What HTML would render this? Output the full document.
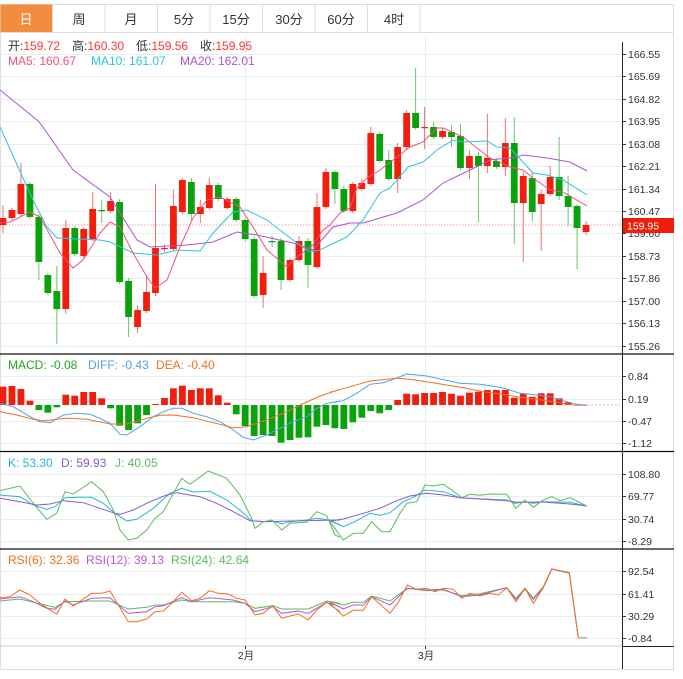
<!DOCTYPE html>
<html><head><meta charset="utf-8"><style>
body{margin:0;background:#fff;width:683px;height:679px;overflow:hidden;font-family:"Liberation Sans","Noto Sans CJK SC",sans-serif}
svg{position:absolute;left:0;top:0}
</style></head><body>
<svg id="s" width="683" height="679" xmlns="http://www.w3.org/2000/svg" font-family="Liberation Sans, Noto Sans CJK SC, sans-serif">
<rect x="0.5" y="4.5" width="673" height="665" fill="none" stroke="#ddd"/>
<rect x="0.5" y="4.5" width="52" height="28" fill="#f28c3f"/>
<g stroke="#ddd"><line x1="0" y1="32.5" x2="674" y2="32.5"/><line x1="105" y1="5" x2="105" y2="32"/><line x1="157.5" y1="5" x2="157.5" y2="32"/><line x1="210" y1="5" x2="210" y2="32"/><line x1="262.5" y1="5" x2="262.5" y2="32"/><line x1="315" y1="5" x2="315" y2="32"/><line x1="367.5" y1="5" x2="367.5" y2="32"/><line x1="420" y1="5" x2="420" y2="32"/><line x1="52.5" y1="5" x2="52.5" y2="32"/></g>
<g font-size="13" text-anchor="middle" fill="#333"><text x="26" y="24" fill="#fff">日</text><text x="79" y="24">周</text><text x="131" y="24">月</text><text x="184" y="24">5分</text><text x="236" y="24">15分</text><text x="289" y="24">30分</text><text x="341" y="24">60分</text><text x="394" y="24">4时</text></g>
<g id="grid" stroke="#e6eef2" stroke-width="1"></g>
<line x1="245.5" y1="36" x2="245.5" y2="646" stroke="#e6eef2"/>
<line x1="425.5" y1="36" x2="425.5" y2="646" stroke="#e6eef2"/>
<line x1="0" y1="225" x2="622" y2="225" stroke="#f5a0a0" stroke-dasharray="1.5,1.5"/>
<g id="c"></g>
<g id="l" fill="none" stroke-width="1"></g>
<g stroke="#111" stroke-width="1.2"><line x1="0" y1="354" x2="674" y2="354"/><line x1="0" y1="451.5" x2="674" y2="451.5"/><line x1="0" y1="549" x2="674" y2="549"/></g>
<line x1="0" y1="646" x2="622" y2="646" stroke="#ccc"/>
<line x1="622.5" y1="42" x2="622.5" y2="669" stroke="#222"/>
<line x1="622" y1="646.5" x2="674" y2="646.5" stroke="#222"/>
<g id="ax" font-size="10.5" fill="#333"></g>
<rect x="623" y="218" width="51" height="15" fill="#f01c0c"/>
<text x="627" y="229.5" font-size="10.5" fill="#fff">159.95</text>
<g font-size="12">
<text x="8" y="50" fill="#333">开:<tspan fill="#f33">159.72</tspan></text>
<text x="72" y="50" fill="#333">高:<tspan fill="#f33">160.30</tspan></text>
<text x="136" y="50" fill="#333">低:<tspan fill="#f33">159.56</tspan></text>
<text x="200" y="50" fill="#333">收:<tspan fill="#f33">159.95</tspan></text>
<text x="8" y="65" fill="#f2507b">MA5: 160.67</text>
<text x="91" y="65" fill="#2bc4dc">MA10: 161.07</text>
<text x="180" y="65" fill="#b154d0">MA20: 162.01</text>
<text x="8" y="369" fill="#1aaa1a">MACD: -0.08</text>
<text x="88" y="369" fill="#4aa3f0">DIFF: -0.43</text>
<text x="156" y="369" fill="#f07020">DEA: -0.40</text>
<text x="8" y="467" fill="#24b8d8">K: 53.30</text>
<text x="61" y="467" fill="#8a5ad0">D: 59.93</text>
<text x="115" y="467" fill="#5cba5c">J: 40.05</text>
<text x="8" y="564" fill="#f07020">RSI(6): 32.36</text>
<text x="86" y="564" fill="#b858d0">RSI(12): 39.13</text>
<text x="171" y="564" fill="#5cba5c">RSI(24): 42.64</text>
</g>
<g font-size="10.5" fill="#333" text-anchor="middle"><text x="246" y="659">2月</text><text x="426" y="659">3月</text></g>
<g stroke="#333"><line x1="245.5" y1="646" x2="245.5" y2="649"/><line x1="425.5" y1="646" x2="425.5" y2="649"/></g>
</svg>
<script>
var NS="http://www.w3.org/2000/svg";
function el(p,t,a){var e=document.createElementNS(NS,t);for(var k in a)e.setAttribute(k,a[k]);document.getElementById(p).appendChild(e);return e;}
var ticks=[[54,"166.55"],[76,"165.69"],[99,"164.82"],[121,"163.95"],[144,"163.08"],[166,"162.21"],[189,"161.34"],[211,"160.47"],[233,"159.60"],[256,"158.73"],[278,"157.86"],[301,"157.00"],[323,"156.13"],[346,"155.26"],
[376,"0.84"],[399,"0.19"],[421,"-0.47"],[443,"-1.12"],[474,"108.80"],[496,"69.77"],[519,"30.74"],[541,"-8.29"],[571,"92.54"],[594,"61.41"],[616,"30.29"],[638,"-0.84"]];
ticks.forEach(function(t){el("grid","line",{x1:0,x2:622,y1:t[0]+.5,y2:t[0]+.5});el("ax","line",{x1:622,x2:626,y1:t[0]+.5,y2:t[0]+.5,stroke:"#333"});var e=el("ax","text",{x:628,y:t[0]+4});e.textContent=t[1];});
function X(i){return 3+i*8.97;}
var C=[[218,225,1,205,233],[210,218,1],[184,214,1,163],[184,217,0],[217,262,0,214,280],[275,293,0],[291,309,0,266,344],[228,309,1,220,314],[228,254,0],[229,256,1],[209,239,1,192],[210,211,0,200,223],[201,211,1,192],[202,282,0,199],[281,317,0,278,337],[310,327,1,305,333],[292,311,1,275],[248,293,1,184,296],[248,249,1,244,252],[206,249,1,190],[180,212,1,178],[182,214,0,178,220],[207,214,1,200,223],[185,208,1,178],[185,199,0],[199,208,1],[199,220,0],[220,239,0],[239,296,0,236,298],[273,295,1,256,308],[241,242,0,236,247],[241,280,0,238,290],[260,280,1],[241,260,1,236],[241,265,0,238,288],[207,267,1,193],[172,207,1,168],[172,189,0,170,204],[189,211,0,185],[184,211,1],[183,189,1,179],[133,184,1,127],[134,161,0,132],[160,179,0,150],[147,179,1,143,193],[113,147,1,110],[113,128,0,68,130],[127,128,1,107,149],[127,137,0,122],[131,137,1,128],[132,137,0,125,147],[136,168,0,124],[156,168,1,150,179],[156,166,0,152,222],[158,166,1,114,173],[161,167,0,158],[143,167,1,118,176],[143,203,0,117,244],[176,203,1,172,262],[178,212,0,172,221],[194,204,1,190,251],[177,194,1,166],[177,196,0,137,200],[196,207,0,176,226],[206,228,0,204,269],[225,232,1,221,235]];
C.forEach(function(c,i){var x=X(i),col=c[2]?"#f31d0d":"#0aa20a",wc=c[2]?"#f07070":"#6cc36c";
el("c","line",{x1:x,x2:x,y1:c[3]||c[0]-2,y2:c[4]||c[1]+2,stroke:wc});
el("c","rect",{x:x-3.4,y:c[0],width:6.8,height:Math.max(1.2,c[1]-c[0]),fill:col});});
var M=[386.7,386,389,400.7,410,412.7,407.3,394.7,395.7,392,392,398.3,408.3,425.7,430,423.3,415,404,398,388.3,385.7,390,388.3,388.3,395.3,402.7,414.3,426,436,435,436,442.7,440,437.7,437.3,426.7,425,428.3,429,422.3,417.7,411,413.3,410,400,393.7,394.3,393,393,392,393.7,395.7,392.7,391.7,390,390,390,397.7,394,396.7,393.3,393.3,398.3,402.3,404.7];
var Z=405;M.forEach(function(v,i){var x=X(i);var red=v<Z;el("c","rect",{x:x-3.4,y:Math.min(v,Z),width:6.8,height:Math.max(.8,Math.abs(v-Z)),fill:red?"#f31d0d":"#0aa20a"});});
function pl(pts,col,off,yo,w){var s=pts.map(function(p){return (p[0]/3+off).toFixed(1)+","+(p[1]/3+yo).toFixed(1)}).join(" ");el("l","polyline",{points:s,stroke:col,"stroke-width":w||1});}
function pp(pts,col){el("l","polyline",{points:pts.map(function(p){return p.join(",")}).join(" "),stroke:col});}
pp([[0,90],[37,120],[40,123],[73,170],[110,197],[137,240],[150,247],[187,245],[213,242],[237,232],[257,235],[293,243],[313,250],[333,227],[350,223],[363,223],[397,213],[423,200],[443,183],[470,170],[490,160],[517,157],[523,155],[547,158],[570,162],[587,171]],"#b154d0");
pp([[0,127],[33,200],[47,227],[57,238],[100,240],[110,242],[133,253],[157,255],[177,250],[200,251],[213,233],[233,212],[247,210],[267,220],[293,240],[310,252],[320,250],[330,245],[347,237],[363,220],[380,193],[390,188],[408,167],[423,162],[437,150],[453,140],[463,142],[487,141],[497,147],[510,148],[533,173],[547,175],[563,180],[587,195]],"#2bc4dc");
pp([[0,223],[10,222],[30,212],[40,217],[60,253],[73,268],[83,260],[100,233],[110,222],[120,227],[133,253],[147,277],[155,288],[167,280],[180,247],[193,218],[207,200],[220,197],[240,207],[253,227],[267,250],[287,267],[297,257],[313,245],[323,230],[330,225],[340,213],[350,208],[357,188],[367,178],[380,170],[397,157],[410,147],[423,142],[437,128],[443,128],[463,137],[477,148],[490,158],[510,167],[523,170],[533,178],[550,190],[563,192],[587,206]],"#f2507b");
pl([[0,160],[40,170],[90,200],[120,215],[150,218],[190,195],[230,190],[270,193],[300,205],[330,220],[360,253],[380,255],[420,230],[460,200],[490,185],[520,175],[545,175],[580,190],[620,200],[660,215],[700,240],[730,262],[760,270],[800,255],[840,235],[880,215],[920,200],[950,175],[980,160],[1020,153]],"#4aa3f0",0,350);
pl([[0,158],[40,152],[80,130],[120,103],[160,98],[190,88],[230,72],[290,78],[390,100],[450,103],[500,110],[530,117],[570,130],[620,135],[660,140],[700,152],[740,163],[770,166]],"#4aa3f0",330,350);
pl([[0,185],[50,195],[100,208],[130,212],[200,205],[260,208],[330,222],[380,222],[440,205],[480,196],[520,195],[580,203],[640,218],[700,233],[740,230],[800,210],[860,185],[900,165],[960,138],[1020,118]],"#f07020",0,350);
pl([[0,127],[60,110],[120,93],[200,85],[240,88],[300,97],[400,113],[460,125],[520,133],[560,140],[620,148],[680,157],[730,165],[770,166]],"#f07020",330,350);
el("l","line",{x1:587,x2:620,y1:405,y2:405,stroke:"#9cd0f0","stroke-dasharray":"2,2"});
pl([[0,135],[60,140],[100,165],[140,178],[165,170],[195,143],[240,142],[275,142],[310,160],[345,190],[380,213],[410,208],[460,175],[510,130],[545,115],[580,126],[630,124],[680,150],[720,180],[755,212],[790,215],[820,213],[845,222],[870,215],[920,210],[950,205],[985,210],[1020,225]],"#24b8d8",0,450);
pl([[0,210],[40,230],[80,212],[120,190],[150,196],[180,188],[220,155],[250,142],[285,120],[340,125],[390,143],[460,147],[530,150],[555,160],[585,155],[610,160],[640,155],[720,157],[770,168]],"#24b8d8",330,450);
pl([[0,145],[60,155],[110,165],[150,162],[190,152],[250,158],[300,175],[345,190],[360,193],[400,180],[450,155],[500,135],[530,128],[600,140],[650,160],[700,185],[750,212],[800,215],[870,213],[1020,210]],"#8a5ad0",0,450);
pl([[0,213],[40,207],[100,190],[150,175],[200,152],[240,138],[290,130],[340,135],[390,143],[530,152],[560,157],[640,156],[720,162],[770,168]],"#8a5ad0",330,450);
pl([[0,122],[60,108],[100,160],[140,208],[170,190],[195,125],[220,132],[275,95],[310,125],[340,180],[360,240],[385,270],[410,265],[440,240],[465,205],[490,185],[545,85],[570,103],[625,63],[680,85],[720,135],[755,205],[765,235],[790,215],[815,210],[845,240],[870,220],[920,217],[950,185],[980,197],[1005,255],[1020,262]],"#5cba5c",0,450);
pl([[0,215],[40,270],[70,250],[100,250],[125,215],[155,245],[180,245],[210,190],[230,160],[260,155],[285,105],[310,107],[340,103],[365,120],[395,143],[420,133],[450,136],[480,132],[530,133],[558,175],[585,150],[610,172],[640,150],[665,140],[690,152],[720,143],[770,168]],"#5cba5c",330,450);
pl([[0,168],[60,162],[165,187],[195,170],[275,168],[330,168],[385,192],[440,187],[465,180],[490,180],[545,165],[575,170],[700,170],[735,175],[765,190],[818,182],[845,192],[925,192],[980,168],[1020,175]],"#5cba5c",0,545);
pl([[0,170],[40,180],[70,172],[100,172],[125,153],[180,168],[232,130],[290,137],[340,135],[395,152],[450,146],[530,128],[558,160],[585,130],[610,160],[640,125],[665,72],[718,85],[745,278],[770,278]],"#5cba5c",330,545);
pl([[0,162],[60,155],[100,170],[140,190],[165,193],[195,168],[220,180],[275,160],[330,158],[355,180],[385,205],[440,200],[465,185],[490,182],[545,158],[575,170],[628,158],[700,165],[735,175],[765,200],[818,185],[845,205],[895,198],[925,205],[980,172],[1020,185]],"#b858d0",0,545);
pl([[0,172],[40,192],[70,180],[100,180],[125,155],[180,180],[232,130],[290,135],[340,133],[395,155],[450,150],[530,128],[558,163],[585,132],[610,163],[640,128],[665,72],[718,83],[745,278]],"#b858d0",330,545);
pl([[0,158],[30,155],[60,135],[90,150],[120,175],[170,208],[195,162],[220,183],[275,145],[305,145],[330,138],[355,180],[385,230],[410,230],[440,222],[465,200],[490,198],[515,175],[545,142],[575,167],[600,160],[628,137],[655,145],[685,147],[710,160],[735,165],[765,210],[790,205],[818,182],[845,220],[870,213],[895,207],[925,225],[950,195],[980,172],[1020,200]],"#f07020",0,545);
pl([[0,175],[40,213],[70,196],[100,196],[125,155],[180,205],[205,172],[232,120],[260,133],[290,130],[315,140],[340,130],[370,133],[395,160],[420,145],[450,153],[480,145],[505,150],[530,128],[558,170],[585,130],[610,175],[640,128],[665,72],[718,83],[745,278],[770,278]],"#f07020",330,545);
el("l","line",{x1:578,x2:587,y1:637.7,y2:637.7,stroke:"#b8b8a0","stroke-width":1.5});
</script>
</body></html>
